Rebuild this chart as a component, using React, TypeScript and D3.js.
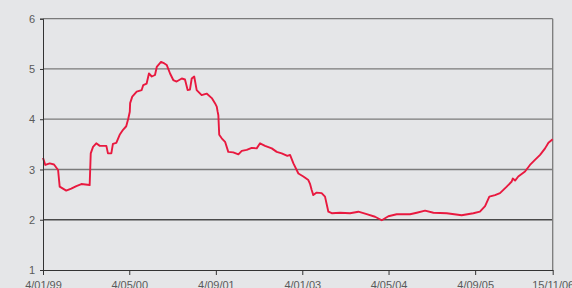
import { useEffect, useRef } from 'react'
import * as d3 from 'd3'

// rate readings, [date, value]
const dates = [
  '1999-01-04', '1999-01-17', '1999-02-11', '1999-03-07', '1999-03-30', '1999-04-08', '1999-05-15',
  '1999-06-12', '1999-07-11', '1999-08-08', '1999-09-24', '1999-09-30', '1999-10-13', '1999-10-31',
  '1999-11-20', '1999-12-27', '2000-01-05', '2000-01-24', '2000-02-02', '2000-02-21', '2000-03-11',
  '2000-03-30', '2000-04-17', '2000-04-29', '2000-05-07', '2000-05-09', '2000-05-21', '2000-06-15',
  '2000-07-13', '2000-07-22', '2000-08-10', '2000-08-23', '2000-09-08', '2000-09-26', '2000-10-06',
  '2000-10-30', '2000-11-18', '2000-12-01', '2000-12-20', '2001-01-07', '2001-01-26', '2001-02-24',
  '2001-03-14', '2001-03-29', '2001-04-11', '2001-04-21', '2001-05-05', '2001-05-19', '2001-06-16',
  '2001-07-14', '2001-08-12', '2001-08-30', '2001-09-09', '2001-09-14', '2001-09-18', '2001-09-23',
  '2001-10-07', '2001-10-26', '2001-11-13', '2001-12-11', '2002-01-09', '2002-01-28', '2002-02-25',
  '2002-03-25', '2002-04-22', '2002-05-11', '2002-06-08', '2002-07-16', '2002-08-13', '2002-09-10',
  '2002-10-12', '2002-10-27', '2002-11-15', '2002-12-13', '2003-01-10', '2003-02-07', '2003-02-16',
  '2003-02-26', '2003-03-07', '2003-03-26', '2003-04-23', '2003-05-12', '2003-05-31', '2003-06-19',
  '2003-08-05', '2003-09-30', '2003-11-16', '2004-01-02', '2004-02-18', '2004-03-27', '2004-05-03',
  '2004-06-19', '2004-09-02', '2004-10-10', '2004-11-26', '2005-01-12', '2005-03-28', '2005-06-20',
  '2005-08-25', '2005-10-01', '2005-10-30', '2005-11-23', '2005-12-25', '2006-01-22', '2006-03-01',
  '2006-03-29', '2006-04-04', '2006-04-17', '2006-05-05', '2006-06-12', '2006-07-10', '2006-08-07',
  '2006-09-05', '2006-10-03', '2006-10-22', '2006-11-15',
]
const rates = [
  3.23, 3.09, 3.12, 3.10, 2.99, 2.66, 2.58,
  2.62, 2.67, 2.71, 2.69, 3.32, 3.45, 3.52,
  3.47, 3.47, 3.32, 3.32, 3.51, 3.53, 3.69,
  3.79, 3.86, 4.02, 4.15, 4.32, 4.45, 4.55,
  4.58, 4.68, 4.71, 4.91, 4.85, 4.88, 5.04,
  5.14, 5.11, 5.08, 4.91, 4.78, 4.75, 4.81,
  4.79, 4.58, 4.59, 4.81, 4.85, 4.58, 4.48,
  4.51, 4.42, 4.32, 4.25, 4.15, 4.08, 3.69,
  3.62, 3.55, 3.35, 3.34, 3.30, 3.37, 3.39,
  3.43, 3.42, 3.52, 3.47, 3.42, 3.35, 3.32,
  3.27, 3.29, 3.12, 2.92, 2.86, 2.79, 2.72,
  2.59, 2.49, 2.54, 2.53, 2.46, 2.16, 2.13,
  2.14, 2.13, 2.16, 2.11, 2.06, 1.99, 2.07,
  2.11, 2.11, 2.14, 2.18, 2.14, 2.13, 2.09,
  2.13, 2.16, 2.27, 2.46, 2.49, 2.53, 2.66,
  2.76, 2.82, 2.78, 2.86, 2.96, 3.09, 3.19,
  3.29, 3.42, 3.53, 3.60,
]
const xTicks = ['1999-01-04', '2000-05-04', '2001-09-04', '2003-01-04', '2004-05-04', '2005-09-04', '2006-11-15']
const yTicks = [1, 2, 3, 4, 5, 6]

export default function App() {
  const svgRef = useRef<SVGSVGElement>(null)

  useEffect(() => {
    if (!svgRef.current) return
    const width = 572
    const height = 288
    const margin = { top: 18.7, right: 19.3, bottom: 18, left: 43 }

    const svg = d3.select(svgRef.current)
    svg.selectAll('*').remove()

    const parse = d3.timeParse('%Y-%m-%d')
    const fmt = d3.timeFormat('%-d/%m/%y')
    const data = dates.map((d, i) => ({ date: parse(d) as Date, v: rates[i] }))

    const x = d3.scaleTime()
      .domain([parse('1999-01-04') as Date, parse('2006-11-15') as Date])
      .range([margin.left, width - margin.right])
    const y = d3.scaleLinear()
      .domain([1, 6])
      .range([height - margin.bottom, margin.top])

    svg.append('rect')
      .attr('width', width).attr('height', height)
      .attr('fill', '#e5e6e8')

    // gridlines
    yTicks.filter(t => t > 1).forEach(t => {
      svg.append('line')
        .attr('x1', x.range()[0]).attr('x2', x.range()[1])
        .attr('y1', y(t)).attr('y2', y(t))
        .attr('stroke', t === 2 ? '#4a4a4a' : '#7a7a7a').attr('stroke-width', 1.3)
    })
    svg.append('line')
      .attr('x1', x.range()[1]).attr('x2', x.range()[1])
      .attr('y1', y(6)).attr('y2', y(1))
      .attr('stroke', '#7a7a7a').attr('stroke-width', 1.3)

    const line = d3.line<{ date: Date; v: number }>()
      .x(d => x(d.date))
      .y(d => y(d.v))

    svg.append('path')
      .datum(data)
      .attr('d', line)
      .attr('fill', 'none')
      .attr('stroke', '#e8193f')
      .attr('stroke-width', 1.9)
      .attr('stroke-linejoin', 'round')

    const yAxis = d3.axisLeft(y)
      .tickValues(yTicks)
      .tickSize(3)
      .tickPadding(5)
      .tickFormat(d => String(d))
    const gy = svg.append('g')
      .attr('transform', `translate(${margin.left},0)`)
      .call(yAxis)
    gy.select('.domain').attr('stroke', '#333').attr('stroke-width', 1)
    gy.selectAll('.tick line').attr('stroke', '#333')
    gy.selectAll('text')
      .attr('fill', '#5a5a5a')
      .style('font-family', 'Liberation Sans, Arial, sans-serif')
      .style('font-size', '11px')

    const xAxis = d3.axisBottom(x)
      .tickValues(xTicks.map(d => parse(d) as Date))
      .tickSize(5)
      .tickSizeOuter(0)
      .tickPadding(6)
      .tickFormat(d => fmt(d as Date))
    const gx = svg.append('g')
      .attr('transform', `translate(0,${y(1)})`)
      .call(xAxis)
    gx.select('.domain').attr('stroke', '#333').attr('stroke-width', 1.2)
    gx.selectAll('.tick line').attr('stroke', '#333')
    gx.selectAll('text')
      .attr('fill', '#5a5a5a')
      .style('font-family', 'Liberation Sans, Arial, sans-serif')
      .style('font-size', '11px')
  }, [])

  return (
    <div style={{ position: 'absolute', left: 0, top: 0, width: 572, height: 288 }}>
      <svg ref={svgRef} width={572} height={288} style={{ display: 'block' }} />
    </div>
  )
}
